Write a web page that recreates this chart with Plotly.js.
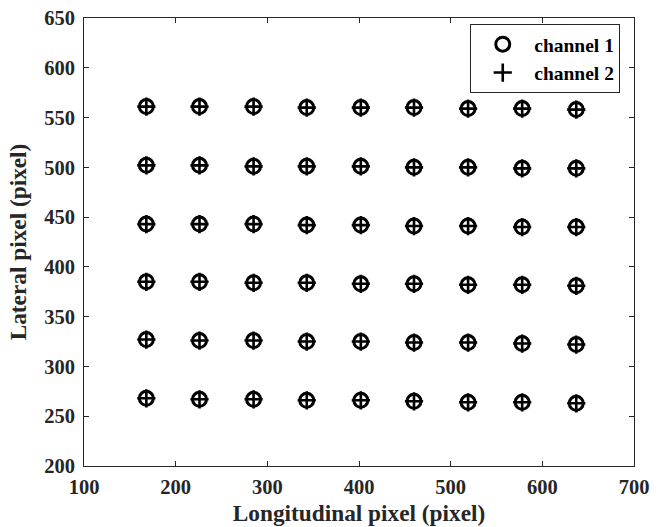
<!DOCTYPE html>
<html>
<head>
<meta charset="utf-8">
<script src="https://cdn.plot.ly/plotly-3.0.1.min.js"></script>
<style>html,body{margin:0;padding:0;background:#fff;}#chart{width:664px;height:527px;}</style>
</head>
<body>
<div id="chart"></div>
<script>
// Column x positions (longitudinal pixel)
const colX = [168, 226, 285, 343, 402, 460, 519, 578, 637];
// Lateral pixel values per row (top to bottom)
const row1 = [561, 561, 561, 560, 560, 560, 559, 559, 558];
const row2 = [502, 502, 501, 501, 501, 500, 500, 499, 499];
const row3 = [443, 443, 443, 442, 442, 441, 441, 440, 440];
const row4 = [385, 385, 384, 384, 383, 383, 382, 382, 381];
const row5 = [327, 326, 326, 325, 325, 324, 324, 323, 322];
const row6 = [268, 267, 267, 266, 266, 265, 264, 264, 263];
const rows = [row1, row2, row3, row4, row5, row6];
const seriesNames = ['channel 1', 'channel 2'];
const xTicks = [100, 200, 300, 400, 500, 600, 700];
const yTicks = [200, 250, 300, 350, 400, 450, 500, 550, 600, 650];

const xs = [], ys = [];
rows.forEach(r => { r.forEach((v, i) => { xs.push(colX[i]); ys.push(v); }); });

const fam = 'Liberation Serif';
const axisCommon = {
  showgrid: false, zeroline: false, showline: true, mirror: 'ticks',
  linecolor: '#262626', linewidth: 1, ticks: 'inside', ticklen: 5, tickwidth: 1,
  tickcolor: '#262626',
  tickfont: {family: fam, size: 20.5, color: '#262626', weight: 'bold'}
};

const traces = [
  {x: xs, y: ys, mode: 'markers', type: 'scatter', name: seriesNames[0],
   marker: {symbol: 'circle-open', size: 14, color: '#000', line: {width: 3, color: '#000'}}},
  {x: xs, y: ys, mode: 'markers', type: 'scatter', name: seriesNames[1],
   marker: {symbol: 'cross-thin-open', size: 13, color: '#000', line: {width: 2.6, color: '#000'}}}
];

const layout = {
  width: 664, height: 527,
  margin: {l: 84, r: 30, t: 18, b: 61},
  paper_bgcolor: '#fff', plot_bgcolor: '#fff',
  font: {family: fam, color: '#262626'},
  showlegend: true,
  legend: {
    x: 0.975, y: 0.9866, xanchor: 'right', yanchor: 'top',
    bordercolor: '#262626', borderwidth: 1, bgcolor: '#fff',
    font: {family: fam, size: 19.5, color: '#000', weight: 'bold'},
    itemwidth: 53, tracegroupgap: 0
  },
  xaxis: Object.assign({}, axisCommon, {
    range: [100, 700], tickvals: xTicks, ticktext: xTicks.map(String),
    ticklabelstandoff: 2,
    title: {text: 'Longitudinal pixel (pixel)', standoff: 8,
            font: {family: fam, size: 23.3, color: '#262626', weight: 'bold'}}
  }),
  yaxis: Object.assign({}, axisCommon, {
    range: [200, 650], tickvals: yTicks, ticktext: yTicks.map(String),
    ticklabelstandoff: 4,
    title: {text: 'Lateral pixel (pixel)', standoff: 10,
            font: {family: fam, size: 23.3, color: '#262626', weight: 'bold'}}
  })
};

Plotly.newPlot('chart', traces, layout, {displayModeBar: false, staticPlot: true});
</script>
</body>
</html>
